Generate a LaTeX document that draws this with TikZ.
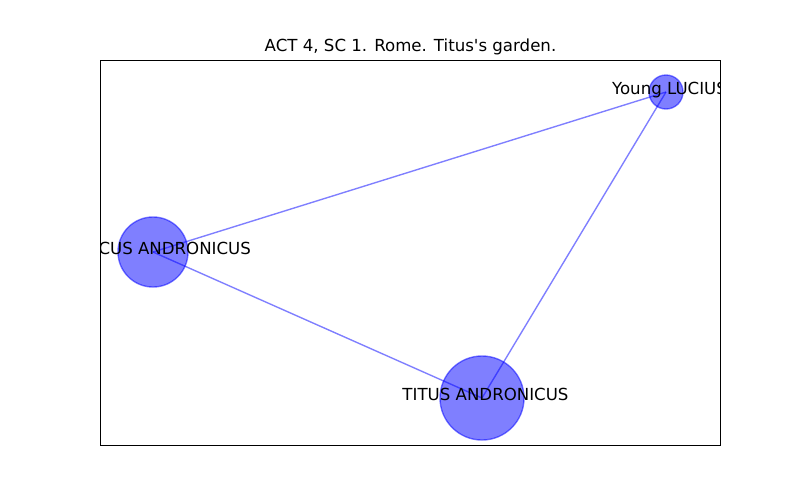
\documentclass[tikz,border=0pt]{standalone}
\usepackage{fontspec}
\setmainfont{DejaVu Sans}
\definecolor{nxBlue}{HTML}{0000FF}
\usetikzlibrary{positioning}
\tikzset{
  person/.style={circle, inner sep=0pt, fill=nxBlue, draw=nxBlue, line width=1pt, opacity=0.5},
  who/.style={inner sep=0pt, text height=0.73em, text depth=0.36em, xshift=0.035in},
  tie/.style={nxBlue, opacity=0.5, line width=1pt}
}

\begin{document}
\begin{tikzpicture}[x=0.01in, y=-0.01in, font=\fontsize{12}{14}\selectfont]
        \useasboundingbox (0,0) rectangle (800,500);
        % Title
        \node[anchor=base] (title) at (410.5,51.7) {ACT 4, SC 1. Rome. Titus\textquotesingle s garden.};
        \begin{scope}
          \clip (100,60) rectangle (720,445);
          % Characters
          \node[person, minimum size=0.34in] (lucius) at (666,92) {};
          \node[person, minimum size=0.70in] (marcus) at (153,252) {};
          \node[person, minimum size=0.84in] (titus) at (482,398) {};
          % Shared lines
          \draw[tie] (marcus.center) -- (lucius.center);
          \draw[tie] (marcus.center) -- (titus.center);
          \draw[tie] (titus.center) -- (lucius.center);
          % Names
          \node[who] (luciusname) at (lucius) {Young LUCIUS};
          \node[who] (marcusname) at (marcus) {MARCUS ANDRONICUS};
          \node[who] (titusname) at (titus) {TITUS ANDRONICUS};
        \end{scope}
        % Axes frame
        \draw[line width=0.6pt] (100,60) rectangle (720,445);
      \end{tikzpicture}
\end{document}
